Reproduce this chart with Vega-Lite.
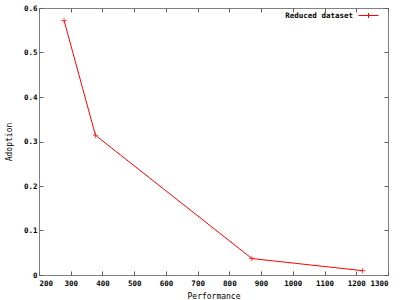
{
  "$schema": "https://vega.github.io/schema/vega-lite/v6.json",
  "width": 349,
  "height": 267,
  "autosize": {"type": "none"},
  "padding": {"left": 39, "top": 8, "right": 12, "bottom": 25},
  "background": "white",
  "config": {
    "view": {"stroke": "#808080", "strokeWidth": 1},
    "font": "DejaVu Sans Mono",
    "axis": {
      "grid": false,
      "domain": false,
      "tickColor": "#606060",
      "tickSize": -4,
      "labelOverlap": false,
      "labelFont": "DejaVu Sans Mono",
      "labelFontSize": 7.5,
      "labelFontWeight": "bold",
      "labelColor": "black",
      "titleFont": "DejaVu Sans Mono",
      "titleFontSize": 8,
      "titleFontWeight": "normal",
      "titleColor": "black"
    }
  },
  "data": {
    "values": [
      {"Performance": 279, "Adoption": 0.572, "series": "Reduced dataset"},
      {"Performance": 378, "Adoption": 0.314, "series": "Reduced dataset"},
      {"Performance": 871, "Adoption": 0.037, "series": "Reduced dataset"},
      {"Performance": 1220, "Adoption": 0.0097, "series": "Reduced dataset"}
    ]
  },
  "layer": [
    {
      "mark": {"type": "line", "strokeWidth": 1, "color": "#ff0000"},
      "encoding": {
        "x": {"field": "Performance", "type": "quantitative",
              "scale": {"domain": [200, 1300], "nice": false, "zero": false},
              "axis": {"orient": "bottom", "values": [200,300,400,500,600,700,800,900,1000,1100,1200,1300], "format": "d", "labelPadding": 8, "title": "Performance", "titlePadding": 6}},
        "y": {"field": "Adoption", "type": "quantitative",
              "scale": {"domain": [0, 0.6], "nice": false},
              "axis": {"orient": "left", "values": [0,0.1,0.2,0.3,0.4,0.5,0.6], "format": ".1~f", "labelPadding": 6, "title": "Adoption", "titlePadding": 10}},
        "stroke": {"field": "series", "type": "nominal",
                   "scale": {"range": ["#ff0000"]},
                   "legend": {"orient": "none", "legendX": 319, "legendY": -3, "title": null, "symbolType": "M-1,0H1M0,-0.25V0.25", "symbolSize": 400, "symbolStrokeWidth": 1, "symbolFillColor": "transparent", "labelFont": "DejaVu Sans Mono", "labelFontSize": 7.5, "labelFontWeight": "bold", "labelAlign": "right", "labelOffset": -26, "padding": 0}}
      }
    },
    {
      "mark": {"type": "point", "shape": "M-1,0H1M0,-1V1", "size": 30, "filled": false, "strokeWidth": 1, "color": "#ff0000"},
      "encoding": {
        "x": {"field": "Performance", "type": "quantitative", "axis": {"orient": "top", "values": [200,300,400,500,600,700,800,900,1000,1100,1200,1300], "labels": false, "title": null}},
        "y": {"field": "Adoption", "type": "quantitative", "axis": {"orient": "right", "values": [0,0.1,0.2,0.3,0.4,0.5,0.6], "labels": false, "title": null}}
      }
    }
  ],
  "resolve": {"axis": {"x": "independent", "y": "independent"}}
}
